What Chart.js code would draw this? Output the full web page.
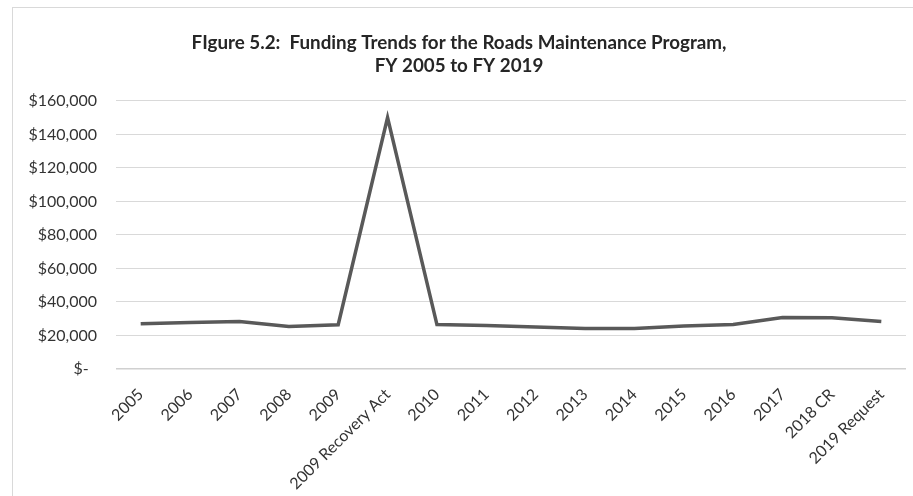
<!DOCTYPE html>
<html>
<head>
<meta charset="utf-8">
<script src="https://cdn.jsdelivr.net/npm/chart.js@4/dist/chart.umd.min.js"></script>
<style>
  html, body { margin: 0; padding: 0; background: #fff; overflow: hidden; }
  #frame { position: absolute; left: 12px; top: 7px; width: 1000px; height: 600px; border: 1px solid #d9d9d9; }
  #chart { position: absolute; left: 0; top: 0; }
</style>
</head>
<body>
<div id="frame"></div>
<canvas id="chart" width="913" height="496"></canvas>
<script>
const titleLines = [
    'FIgure 5.2:  Funding Trends for the Roads Maintenance Program,',
    'FY 2005 to FY 2019'
];

const years = [
    '2005', '2006', '2007', '2008', '2009', '2009 Recovery Act',
    '2010', '2011', '2012', '2013', '2014', '2015', '2016', '2017',
    '2018 CR', '2019 Request'
];

// funding, thousands of dollars
const funding = [
    27000, 27800, 28300, 25300, 26400, 150000,
    26500, 25900, 25000, 24100, 24100, 25600, 26500, 30700,
    30600, 28400
];

const yTicks = [0, 20000, 40000, 60000, 80000, 100000, 120000, 140000, 160000];

function money(v) {
    if (v === 0) return '$-  ';
    return '$' + v.toLocaleString('en-US');
}

let config = {
    type: 'line',
    data: {
        labels: years,
        datasets: [{
            label: 'Funding',
            data: funding,
            borderColor: '#595959',
            borderWidth: 3.5,
            pointRadius: 0,
            tension: 0,
            fill: false
        }]
    },
    options: {
        responsive: false,
        animation: false,
        layout: {
            padding: { left: 12, right: 7, top: 0, bottom: 0 }
        },
        plugins: {
            legend: { display: false },
            tooltip: { enabled: false },
            title: {
                display: true,
                text: titleLines,
                color: '#262626',
                font: { family: 'Lato', size: 18.8, weight: 'bold', lineHeight: 1.22 },
                padding: { top: 31.5, bottom: 23.5 }
            }
        },
        scales: {
            x: {
                offset: true,
                grid: { display: false },
                border: { display: false },
                ticks: {
                    autoSkip: false,
                    minRotation: 45,
                    maxRotation: 45,
                    padding: 6,
                    color: '#333',
                    font: { family: 'Lato', size: 16 }
                },
                afterFit(scale) { scale.height = 125; }
            },
            y: {
                // a little below zero so the $- gridline stays inside the plot
                min: -1200,
                max: 160000,
                afterBuildTicks(scale) {
                    scale.ticks = yTicks.map(v => ({ value: v }));
                },
                grid: {
                    color: (c) => (c.tick && c.tick.value === 0) ? '#d0d0d0' : '#d9d9d9',
                    lineWidth: (c) => (c.tick && c.tick.value === 0) ? 1.4 : 1,
                    drawTicks: false
                },
                border: { display: false },
                ticks: {
                    padding: 19,
                    color: '#333',
                    font: { family: 'Lato', size: 16 },
                    callback: (v) => money(v)
                },
                afterFit(scale) { scale.width = 104; }
            }
        }
    }
};

const chart = new Chart(document.getElementById('chart'), config);
</script>
</body>
</html>
